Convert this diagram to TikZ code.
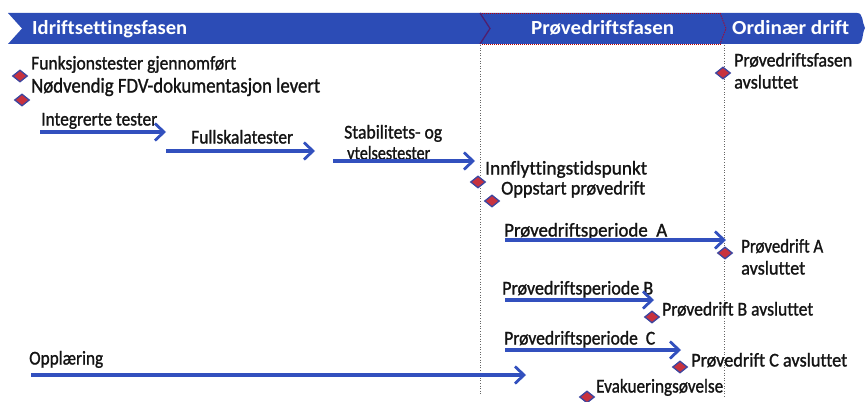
\documentclass[tikz,border=0pt]{standalone}
\usepackage{graphicx}
\usepackage{fontspec}
\setmainfont{Carlito}
\newfontfamily\scanfont{Carlito}[FakeBold=1.3,Ligatures=NoCommon]
\newfontfamily\bandfont{Carlito}[Ligatures=NoCommon]
\newcommand\fitw[2]{\resizebox{#1pt}{\height}{#2}}
\usetikzlibrary{arrows.meta,shapes.geometric}
\definecolor{band}{RGB}{44,76,182}
\definecolor{arrblue}{RGB}{50,80,190}
\definecolor{msred}{RGB}{200,50,62}
\definecolor{msedge}{RGB}{60,70,160}
\definecolor{chev}{RGB}{80,30,110}
\tikzset{
  lbl/.style={anchor=west,inner sep=0pt,text height=13pt,text depth=4pt,font=\scanfont\fontsize{19.5}{21}\selectfont,text=black!92},
  phase/.style={anchor=west,inner sep=0pt,text height=14pt,text depth=4pt,font=\bandfont\fontsize{20}{22}\selectfont\bfseries,text=white},
  milestone/.style={diamond,fill=msred,draw=msedge,line width=1.3pt,inner sep=0pt,minimum width=15pt,minimum height=12pt},
  arr/.style={draw=arrblue,line width=3.2pt,-{Straight Barb[length=9pt,width=17pt,line width=2.8pt]}},
  vdot/.style={draw=black!60,line width=0.8pt,dash pattern=on 1pt off 1.6pt},
}
\begin{document}
\begin{tikzpicture}[x=1pt,y=-1pt]
\useasboundingbox (0,0) rectangle (866,401);
% banner
\fill[band] (8,13) -- (857,13) to[out=0,in=120] (865,28) to[out=240,in=0] (857,44) -- (8,44) -- (22,28.5) -- cycle;
\draw[red!75!black,line width=0.6pt,dash pattern=on 1pt off 1pt] (480,13) -- (721,13) (482,44) -- (721,44);
\draw[chev,line width=1.3pt] (480,13) -- (490,28.5) -- (480,44);
\draw[chev!60!red,line width=0.9pt,dash pattern=on 1.5pt off 1pt] (720,13) -- (726,28.5) -- (720,44);
\node[phase] (p1) at (32,30) {\fitw{155}{Idriftsettingsfasen}};
\node[phase] (p2) at (531,30) {\fitw{143}{Prøvedriftsfasen}};
\node[phase] (p3) at (732,30) {\fitw{117}{Ordinær drift}};
% vertical dotted lines
\coordinate (v1t) at (480,45); \coordinate (v1b) at (480,396);
\coordinate (v2t) at (724,45); \coordinate (v2b) at (724,398);
\draw[vdot] (v1t) -- (v1b);
\draw[vdot] (v2t) -- (v2b);
% milestones
\node[milestone] (m1) at (20,76) {};
\node[lbl] (t1) at (31,65) {\fitw{205}{Funksjonstester gjennomført}};
\node[milestone] (m2) at (22,100) {};
\node[lbl,font=\scanfont\fontsize{21}{23}\selectfont] (t2) at (31,88) {\fitw{289}{Nødvendig FDV-dokumentasjon levert}};
\node[milestone] (m3) at (723,73) {};
\node[lbl] (t3a) at (734,62) {\fitw{118}{Prøvedriftsfasen}};
\node[lbl] (t3b) at (734,84) {\fitw{64}{avsluttet}};
\node[milestone] (m4) at (478,182) {};
\node[lbl] (t4) at (485,170) {\fitw{162}{Innflyttingstidspunkt}};
\node[milestone] (m5) at (492,201) {};
\node[lbl] (t5) at (501,190) {\fitw{144}{Oppstart prøvedrift}};
\node[milestone] (m6) at (725,253) {};
\node[lbl] (t6a) at (741,248) {\fitw{82}{Prøvedrift A}};
\node[lbl] (t6b) at (741,270) {\fitw{64}{avsluttet}};
\node[milestone] (m7) at (652,317) {};
\node[lbl] (t7) at (662,311) {\fitw{151}{Prøvedrift B avsluttet}};
\node[milestone] (m8) at (680,367) {};
\node[lbl] (t8) at (691,362) {\fitw{156}{Prøvedrift C avsluttet}};
\node[milestone] (m9) at (587,397) {};
\node[lbl] (t9) at (596,388) {\fitw{127}{Evakueringsøvelse}};
% arrows
\node[lbl] (l1) at (41,121) {\fitw{116}{Integrerte tester}};
\coordinate (a1s) at (40,132); \coordinate (a1e) at (166,132);
\draw[arr] (a1s) -- (a1e);
\node[lbl] (l2) at (191,139) {\fitw{102}{Fullskalatester}};
\coordinate (a2s) at (166,151); \coordinate (a2e) at (315,151);
\draw[arr] (a2s) -- (a2e);
\node[lbl] (l3a) at (344,134) {\fitw{98}{Stabilitets- og}};
\node[lbl] (l3b) at (347,155) {\fitw{83}{ytelsestester}};
\coordinate (a3s) at (333,161); \coordinate (a3e) at (475,161);
\draw[arr] (a3s) -- (a3e);
\node[lbl] (l4) at (504,232) {\fitw{163}{Prøvedriftsperiode\ \ A}};
\coordinate (a4s) at (505,240); \coordinate (a4e) at (726,240);
\draw[arr] (a4s) -- (a4e);
\node[lbl] (l5) at (502,290) {\fitw{151}{Prøvedriftsperiode B}};
\coordinate (a5s) at (505,300); \coordinate (a5e) at (654,300);
\draw[arr] (a5s) -- (a5e);
\node[lbl] (l6) at (504,340) {\fitw{151}{Prøvedriftsperiode\ \ C}};
\coordinate (a6s) at (505,350); \coordinate (a6e) at (681,350);
\draw[arr] (a6s) -- (a6e);
\node[lbl] (l7) at (29,360) {\fitw{74}{Opplæring}};
\coordinate (a7s) at (31,375); \coordinate (a7e) at (526,375);
\draw[arr] (a7s) -- (a7e);
\end{tikzpicture}
\end{document}
